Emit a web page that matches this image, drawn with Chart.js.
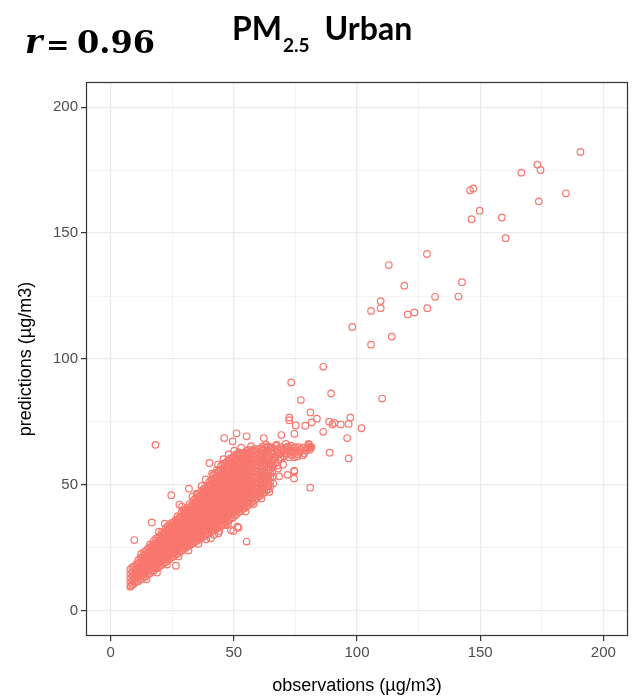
<!DOCTYPE html>
<html><head><meta charset="utf-8">
<script src="https://cdn.jsdelivr.net/npm/chart.js@4.4.1/dist/chart.umd.min.js"></script>
<style>html,body{margin:0;padding:0;background:#fff;}canvas{display:block;}</style>
</head><body>
<canvas id="c" width="637" height="697"></canvas>
<script>
// ---- text ----
const statLabel = ['r', '=', '0.96'];
const titleMain = 'PM';
const titleSub = '2.5';
const titleRest = 'Urban';
const xTitle = 'observations (µg/m3)';
const yTitle = 'predictions (µg/m3)';
// ---- tick labels ----
const xTickLabels = [0, 50, 100, 150, 200];
const yTickLabels = [0, 50, 100, 150, 200];
const minorBreaks = [25, 75, 125, 175];

// ---- data ----
// dense core: [observation, [predictions at that observation]]
const bandColumns = [
[8.0,[9.6,11.3,13.0,14.7,16.4]],
[8.8,[10.4,12.1,13.8,15.5,17.2]],
[9.6,[10.8,12.5,14.2,15.9,17.6]],
[10.4,[11.6,13.3,15.0,16.7,18.4]],
[11.2,[11.7,13.4,15.1,16.8,18.5,20.0]],
[12.0,[12.5,14.2,15.9,17.6,19.3,20.9]],
[12.8,[12.7,14.4,16.1,17.8,19.5,21.2]],
[13.6,[13.6,15.3,17.0,18.7,20.4,22.1,23.3]],
[14.4,[13.7,15.4,17.1,18.8,20.5,22.2,23.9]],
[15.2,[14.6,16.3,18.0,19.7,21.4,23.1,24.8]],
[16.0,[14.9,16.6,18.3,20.0,21.7,23.4,25.1,26.4]],
[16.8,[15.8,17.5,19.2,20.9,22.6,24.3,26.0]],
[17.6,[16.0,17.7,19.4,21.1,22.8,24.5,26.2,27.9]],
[18.4,[16.9,18.6,20.3,22.0,23.7,25.4,27.1,28.7]],
[19.2,[17.1,18.8,20.5,22.2,23.9,25.6,27.3,29.0]],
[20.0,[17.9,19.6,21.3,23.0,24.7,26.4,28.1,29.8]],
[20.8,[18.2,19.9,21.6,23.3,25.0,26.7,28.4,30.1,31.2]],
[21.6,[19.0,20.7,22.4,24.1,25.8,27.5,29.2,30.9]],
[22.4,[19.4,21.1,22.8,24.5,26.2,27.9,29.6,31.3,32.8]],
[23.2,[20.2,21.9,23.6,25.3,27.0,28.7,30.4,32.1,33.6]],
[24.0,[20.5,22.2,23.9,25.6,27.3,29.0,30.7,32.4,34.1]],
[24.8,[21.3,23.0,24.7,26.4,28.1,29.8,31.5,33.2,34.9]],
[25.6,[21.6,23.3,25.0,26.7,28.4,30.1,31.8,33.5,35.2]],
[26.4,[22.5,24.2,25.9,27.6,29.3,31.0,32.7,34.4,36.1]],
[27.2,[22.7,24.4,26.1,27.8,29.5,31.2,32.9,34.6,36.3,37.6]],
[28.0,[23.6,25.3,27.0,28.7,30.4,32.1,33.8,35.5,37.2]],
[28.8,[23.8,25.5,27.2,28.9,30.6,32.3,34.0,35.7,37.4,39.1]],
[29.6,[24.6,26.3,28.0,29.7,31.4,33.1,34.8,36.5,38.2,39.9]],
[30.4,[24.9,26.6,28.3,30.0,31.7,33.4,35.1,36.8,38.5,40.2]],
[31.2,[25.6,27.3,29.0,30.7,32.4,34.1,35.8,37.5,39.2,40.9]],
[32.0,[25.8,27.5,29.2,30.9,32.6,34.3,36.0,37.7,39.4,41.1,42.4]],
[32.8,[26.6,28.3,30.0,31.7,33.4,35.1,36.8,38.5,40.2,41.9]],
[33.6,[26.8,28.5,30.2,31.9,33.6,35.3,37.0,38.7,40.4,42.1,43.8]],
[34.4,[27.6,29.3,31.0,32.7,34.4,36.1,37.8,39.5,41.2,42.9,44.6]],
[35.2,[27.8,29.5,31.2,32.9,34.6,36.3,38.0,39.7,41.4,43.1,44.8,46.1]],
[36.0,[28.6,30.3,32.0,33.7,35.4,37.1,38.8,40.5,42.2,43.9,45.6]],
[36.8,[28.8,30.5,32.2,33.9,35.6,37.3,39.0,40.7,42.4,44.1,45.8,47.5]],
[37.6,[29.6,31.3,33.0,34.7,36.4,38.1,39.8,41.5,43.2,44.9,46.6,48.3]],
[38.4,[29.8,31.5,33.2,34.9,36.6,38.3,40.0,41.7,43.4,45.1,46.8,48.5]],
[39.2,[30.6,32.3,34.0,35.7,37.4,39.1,40.8,42.5,44.2,45.9,47.6,49.3]],
[40.0,[30.8,32.5,34.2,35.9,37.6,39.3,41.0,42.7,44.4,46.1,47.8,49.5,51.2]],
[40.8,[31.6,33.3,35.0,36.7,38.4,40.1,41.8,43.5,45.2,46.9,48.6,50.3,52.0]],
[41.6,[31.8,33.5,35.2,36.9,38.6,40.3,42.0,43.7,45.4,47.1,48.8,50.5,52.2,53.8]],
[42.4,[32.5,34.2,35.9,37.6,39.3,41.0,42.7,44.4,46.1,47.8,49.5,51.2,52.9,54.6]],
[43.2,[32.7,34.4,36.1,37.8,39.5,41.2,42.9,44.6,46.3,48.0,49.7,51.4,53.1,54.8,56.0]],
[44.0,[33.5,35.2,36.9,38.6,40.3,42.0,43.7,45.4,47.1,48.8,50.5,52.2,53.9,55.6]],
[44.8,[33.7,35.4,37.1,38.8,40.5,42.2,43.9,45.6,47.3,49.0,50.7,52.4,54.1,55.8,57.5]],
[45.6,[34.5,36.2,37.9,39.6,41.3,43.0,44.7,46.4,48.1,49.8,51.5,53.2,54.9,56.6,58.3]],
[46.4,[34.7,36.4,38.1,39.8,41.5,43.2,44.9,46.6,48.3,50.0,51.7,53.4,55.1,56.8,58.5]],
[47.2,[35.5,37.2,38.9,40.6,42.3,44.0,45.7,47.4,49.1,50.8,52.5,54.2,55.9,57.6,59.3]],
[48.0,[36.0,37.7,39.4,41.1,42.8,44.5,46.2,47.9,49.6,51.3,53.0,54.7,56.4,58.1,59.8]],
[48.8,[36.8,38.5,40.2,41.9,43.6,45.3,47.0,48.7,50.4,52.1,53.8,55.5,57.2,58.9,60.6]],
[49.6,[37.0,38.7,40.4,42.1,43.8,45.5,47.2,48.9,50.6,52.3,54.0,55.7,57.4,59.1,60.8]],
[50.4,[37.9,39.6,41.3,43.0,44.7,46.4,48.1,49.8,51.5,53.2,54.9,56.6,58.3,60.0,61.7]],
[51.2,[38.3,40.0,41.7,43.4,45.1,46.8,48.5,50.2,51.9,53.6,55.3,57.0,58.7,60.4,62.1]],
[52.0,[39.2,40.9,42.6,44.3,46.0,47.7,49.4,51.1,52.8,54.5,56.2,57.9,59.6,61.3,62.9]],
[52.8,[39.6,41.3,43.0,44.7,46.4,48.1,49.8,51.5,53.2,54.9,56.6,58.3,60.0,61.7]],
[53.6,[40.4,42.1,43.8,45.5,47.2,48.9,50.6,52.3,54.0,55.7,57.4,59.1,60.8,62.5]],
[54.4,[40.8,42.5,44.2,45.9,47.6,49.3,51.0,52.7,54.4,56.1,57.8,59.5,61.2,62.9]],
[55.2,[41.6,43.3,45.0,46.7,48.4,50.1,51.8,53.5,55.2,56.9,58.6,60.3,62.0,63.5]],
[56.0,[42.0,43.7,45.4,47.1,48.8,50.5,52.2,53.9,55.6,57.3,59.0,60.7,62.4,63.9]],
[56.8,[42.8,44.5,46.2,47.9,49.6,51.3,53.0,54.7,56.4,58.1,59.8,61.5,63.2]],
[57.6,[43.2,44.9,46.6,48.3,50.0,51.7,53.4,55.1,56.8,58.5,60.2,61.9,63.6]],
[58.4,[44.0,45.7,47.4,49.1,50.8,52.5,54.2,55.9,57.6,59.3,61.0,62.7,64.3]],
[59.2,[44.6,46.3,48.0,49.7,51.4,53.1,54.8,56.5,58.2,59.9,61.6,63.3]],
[60.0,[45.4,47.1,48.8,50.5,52.2,53.9,55.6,57.3,59.0,60.7,62.4,64.1]],
[60.8,[45.8,47.5,49.2,50.9,52.6,54.3,56.0,57.7,59.4,61.1,62.8,64.5]],
[61.6,[46.6,48.3,50.0,51.7,53.4,55.1,56.8,58.5,60.2,61.9,63.6,65.2]],
[62.4,[47.0,48.7,50.4,52.1,53.8,55.5,57.2,58.9,60.6,62.3,64.0]],
[63.2,[47.8,49.5,51.2,52.9,54.6,56.3,58.0,59.7,61.4,63.1,64.8]],
[64.0,[48.3,50.0,51.7,53.4,55.1,56.8,58.5,60.2,61.9,63.6,65.3]],
[64.8,[49.5,51.2,52.9,54.6,56.3,58.0,59.7,61.4,63.1,64.8]],
[65.6,[55.0,57.5,60.0,62.5,64.8]]
];
// right-hand arm of the cluster: [observation, prediction]
const armPoints = [
[66.0,60.5],[66.5,63.0],[67.0,65.5],[67.4,61.8],[67.8,64.2],[68.3,59.9],[68.7,62.6],[69.1,65.0],[69.5,60.7],[69.9,63.4],
[70.4,61.3],[70.8,64.1],[71.1,66.3],[71.6,62.4],[72.0,65.2],[72.5,61.0],[72.9,63.7],[73.1,65.6],[73.8,62.9],[74.3,64.6],
[74.5,61.0],[75.2,63.6],[76.5,65.0],[76.1,62.1],[77.9,61.7],[77.1,63.9],[79.2,63.6],[78.2,64.8],[80.3,66.3],[81.5,65.0],
[66.2,57.2],[68.0,56.5],[70.0,58.0],[66.8,61.2],[67.6,62.9],[68.9,61.0],[69.6,64.2],[70.6,62.6],[71.4,64.9],[72.3,63.4],
[73.4,61.8],[74.0,63.2],[75.0,65.0],[75.8,61.3],[76.8,63.0],[78.6,62.5],[79.8,65.0],[80.8,64.0],[65.8,64.6],[66.9,58.6]
];
// scattered points around the core
const edgePoints = [
[8.2,10.0],[9.6,28.1],[16.7,35.1],[24.6,45.9],[27.9,42.2],[31.8,48.5],[34.9,46.5],[18.2,65.9],
[26.5,17.9],[40.7,28.8],[43.8,30.8],[44.1,31.7],[46.8,34.0],[48.8,32.1],[49.8,31.7],[51.5,33.4],[51.9,33.0],[55.2,27.5],
[38.6,52.2],[40.1,58.7],[46.1,68.6],[49.5,67.3],[51.1,70.5],[55.2,69.3],[54.9,62.3],[62.2,68.6],[63.0,66.0],[67.4,66.0],[69.3,69.8],
[67.7,57.7],[68.4,53.4],[71.8,54.0],[74.5,55.7],[74.5,52.5],[81.0,48.9],
[12.4,22.6],[19.6,31.4],[22.0,34.6],[29.0,41.4],[33.2,45.3],[37.0,49.6],[41.2,54.6],[43.6,58.1],[45.8,60.2],[47.9,62.1],[50.2,63.6],
[53.0,64.8],[57.0,65.4],[14.6,12.5],[18.8,15.2],[22.8,18.4],[27.6,21.6],[31.6,24.0],[35.6,26.6],[38.8,28.4],[42.0,30.2],[47.6,34.4],
[54.8,39.4],[58.0,42.4],[61.2,44.6],[64.4,47.2],[66.0,50.6],[65.8,53.2]
];
const midPoints = [
[86.3,96.9],[73.3,90.7],[89.5,86.3],[110.2,84.3],[77.2,83.7],[81.1,78.8],[72.5,76.8],[72.5,75.7],[83.7,76.3],
[75.1,73.6],[79.0,73.5],[81.6,74.8],[88.7,75.1],[90.0,74.0],[90.8,74.6],[93.4,74.0],[96.6,74.2],[97.3,76.8],
[101.8,72.5],[86.3,71.1],[74.6,70.3],[96.0,68.6],[88.9,62.8],[96.6,60.5],[80.6,65.9],[81.1,65.0],[80.2,64.3],[74.6,55.3]
];
const highPoints = [
[98.1,112.7],[105.7,105.7],[105.7,119.1],[109.6,120.2],[109.6,123.0],[112.9,137.3],[114.1,108.9],[119.2,129.1],
[120.6,117.7],[123.3,118.5],[128.4,141.7],[128.5,120.2],[131.7,124.7],[141.2,124.8],[142.6,130.5],
[145.9,167.0],[147.2,167.7],[146.5,155.5],[149.8,158.9],[158.8,156.2],[160.3,148.0],[166.7,174.0],
[173.2,177.2],[174.5,175.1],[173.8,162.6],[184.8,165.8],[190.7,182.2]
];

const allPoints = [];
bandColumns.forEach(([obs, preds]) => preds.forEach(p => allPoints.push({x: obs, y: p})));
[...armPoints, ...edgePoints, ...midPoints, ...highPoints].forEach(p => allPoints.push({x: p[0], y: p[1]}));

const xAll = [...xTickLabels, ...minorBreaks].sort((a,b)=>a-b);
const yAll = [...yTickLabels, ...minorBreaks].sort((a,b)=>a-b);
const isMajor = (arr, v) => arr.includes(v);

const decor = {
  id: 'decor',
  afterDraw(chart) {
    const ctx = chart.ctx, a = chart.chartArea;
    ctx.save();
    ctx.strokeStyle = '#333333';
    ctx.lineWidth = 1.2;
    ctx.strokeRect(a.left + 0.5, a.top + 0.5, a.right - a.left - 1, a.bottom - a.top - 1);
    ctx.fillStyle = '#000';
    ctx.textBaseline = 'alphabetic';
    ctx.textAlign = 'left';
    // r = 0.96
    ctx.font = 'italic bold 33px "DejaVu Serif"';
    ctx.fillText(statLabel[0], 25, 53);
    ctx.font = 'bold 28px "DejaVu Serif"';
    ctx.fillText(statLabel[1], 46, 54);
    ctx.font = 'bold 32px "DejaVu Serif"';
    ctx.fillText(statLabel[2], 77, 53);
    // PM2.5 Urban
    ctx.font = 'bold 32px Lato';
    ctx.fillText(titleMain, 232, 40);
    let x = 232 + ctx.measureText(titleMain).width + 1;
    ctx.font = 'bold 19px Lato';
    ctx.fillText(titleSub, x, 52);
    x += ctx.measureText(titleSub).width + 15;
    ctx.font = 'bold 32px Lato';
    ctx.fillText(titleRest, x, 40);
    ctx.restore();
  }
};

new Chart(document.getElementById('c'), {
  type: 'scatter',
  data: {
    datasets: [{
      data: allPoints,
      showLine: false,
      pointStyle: 'circle',
      pointRadius: 3.3,
      pointBorderWidth: 1.2,
      pointBorderColor: '#F8766D',
      pointBackgroundColor: 'rgba(0,0,0,0)',
      pointHoverRadius: 3.3
    }]
  },
  options: {
    responsive: false,
    animation: false,
    events: [],
    layout: { padding: { top: 82, right: 9, left: 0, bottom: 0 } },
    plugins: { legend: { display: false }, tooltip: { enabled: false }, title: { display: false } },
    scales: {
      x: {
        type: 'linear', min: -10, max: 210,
        afterFit: s => { s.height = 61; },
        afterBuildTicks: s => { s.ticks = xAll.map(v => ({value: v})); },
        border: { display: false },
        grid: {
          color: c => isMajor(xTickLabels, c.tick && c.tick.value) ? '#EBEBEB' : '#F3F3F3',
          lineWidth: c => isMajor(xTickLabels, c.tick && c.tick.value) ? 1.2 : 1,
          tickColor: c => isMajor(xTickLabels, c.tick && c.tick.value) ? '#333333' : 'rgba(0,0,0,0)',
          tickLength: 5, tickWidth: 1.2, drawTicks: true
        },
        ticks: {
          autoSkip: false, maxRotation: 0, padding: 3,
          color: '#4D4D4D', font: { family: '"Liberation Sans", Arial', size: 15 },
          callback: v => xTickLabels.includes(v) ? String(v) : ''
        },
        title: { display: true, text: xTitle, color: '#000', padding: 0,
          font: { family: '"Liberation Sans", Arial', size: 18 } }
      },
      y: {
        type: 'linear', min: -10, max: 210,
        afterFit: s => { s.width = 86; },
        afterBuildTicks: s => { s.ticks = yAll.map(v => ({value: v})); },
        border: { display: false },
        grid: {
          color: c => isMajor(yTickLabels, c.tick && c.tick.value) ? '#EBEBEB' : '#F3F3F3',
          lineWidth: c => isMajor(yTickLabels, c.tick && c.tick.value) ? 1.2 : 1,
          tickColor: c => isMajor(yTickLabels, c.tick && c.tick.value) ? '#333333' : 'rgba(0,0,0,0)',
          tickLength: 5, tickWidth: 1.2, drawTicks: true
        },
        ticks: {
          autoSkip: false, padding: 3,
          color: '#4D4D4D', font: { family: '"Liberation Sans", Arial', size: 15 },
          callback: v => yTickLabels.includes(v) ? String(v) : ''
        },
        title: { display: true, text: yTitle, color: '#000', padding: { top: 15, bottom: 0 },
          font: { family: '"Liberation Sans", Arial', size: 18 } }
      }
    }
  },
  plugins: [decor]
});
</script>
</body></html>
